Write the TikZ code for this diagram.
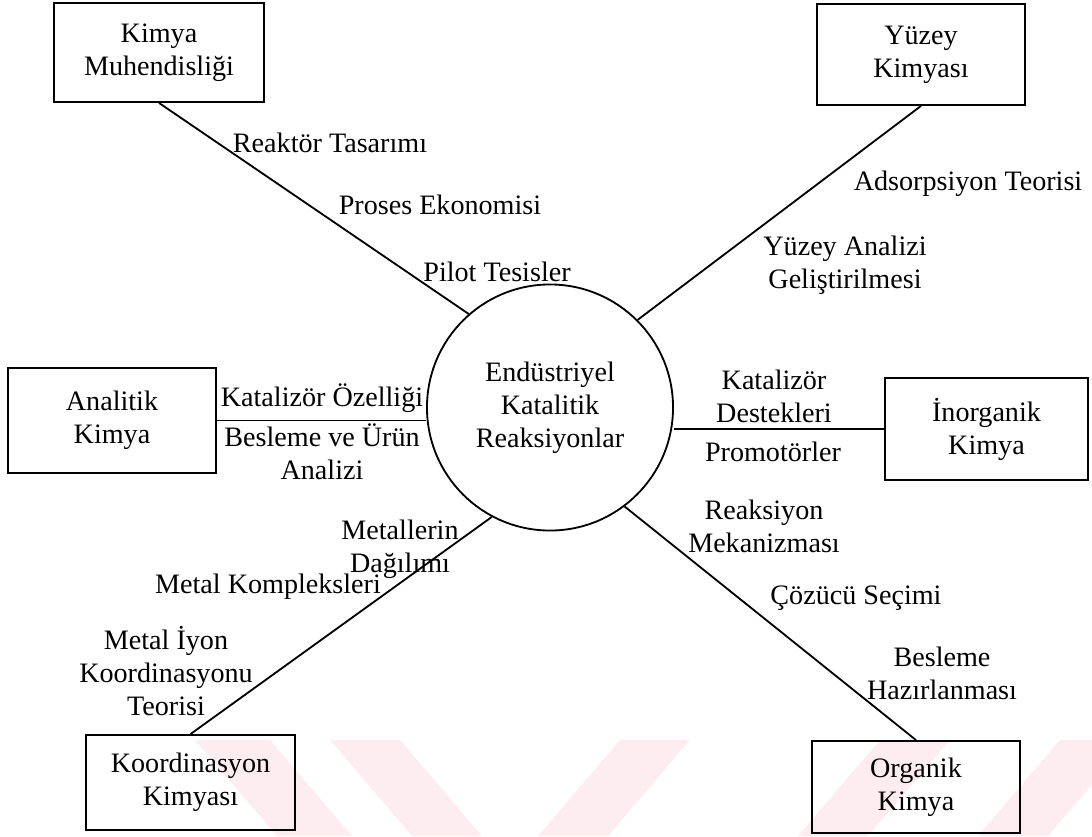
\documentclass[tikz,border=0pt]{standalone}
\usepackage{fontspec}
\setmainfont{Liberation Serif}
\usepackage{xcolor}
\usepackage{tikz}
\usetikzlibrary{positioning,calc}

\definecolor{wmpink}{RGB}{253,236,240}

\begin{document}
\begin{tikzpicture}[x=0.025cm, y=-0.025cm,
    box/.style={draw, line width=1.3pt, rectangle, align=center, inner sep=0pt},
    hub/.style={draw, line width=1.3pt, circle, align=center, inner sep=0pt, minimum size=6.15cm},
    lbl/.style={align=center, inner sep=0pt},
    every node/.style={font=\fontsize{20}{23.5}\selectfont},
    link/.style={line width=1.3pt}]
  \useasboundingbox (0,0) rectangle (1092,836);

  % watermark
  \fill[wmpink] (195,740) -- (270,740) -- (352,836) -- (277,836) -- cycle;
  \fill[wmpink] (330,740) -- (400,740) -- (482,836) -- (412,836) -- cycle;
  \fill[wmpink] (620,740) -- (690,740) -- (608,836) -- (538,836) -- cycle;
  \fill[wmpink] (880,740) -- (950,740) -- (868,836) -- (798,836) -- cycle;
  \fill[wmpink] (1060,740) -- (1130,740) -- (1048,836) -- (978,836) -- cycle;

  % hub and boxes
  \node[hub] (hub) at (550,407.5) {Endüstriyel\\Katalitik\\Reaksiyonlar};

  \node[box, minimum width=5.25cm, minimum height=2.475cm] (kim) at (159,52.5) {Kimya\\Muhendisliği};
  \node[box, minimum width=5.2cm, minimum height=2.525cm] (yuz) at (921,54.5) {Yüzey\\Kimyası};
  \node[box, minimum width=5.2cm, minimum height=2.625cm] (ana) at (112,420.5) {Analitik\\Kimya};
  \node[box, minimum width=5.075cm, minimum height=2.55cm] (ino) at (986.5,429) {İnorganik\\Kimya};
  \node[box, minimum width=5.225cm, minimum height=2.375cm] (koo) at (190.5,782.5) {Koordinasyon\\Kimyası};
  \node[box, minimum width=5.2cm, minimum height=2.3cm] (org) at (916,787) {Organik\\Kimya};

  % connectors
  \draw[link] (kim.south) -- (hub.131);
  \draw[link] (yuz.south) -- (hub.45);
  \draw[link] (ana.east) -- (ana.east -| hub.west);
  \draw[link] (ino.west) -- (ino.west -| hub.east);
  \draw[link] (koo.north) -- (hub.242);
  \draw[link] (org.north) -- (hub.307);

  % labels
  \node[lbl] (reaktor) at (330,143) {Reaktör Tasarımı};
  \node[lbl] (proses) at (440,205) {Proses Ekonomisi};
  \node[lbl] (pilot) at (497,272) {Pilot Tesisler};

  \node[lbl] (adsorp) at (968,184) {Adsorpsiyon Teorisi};
  \node[lbl] (yanaliz) at (845,265) {Yüzey Analizi\\Geliştirilmesi};

  \node[lbl] (ozellik) at (322,398) {Katalizör Özelliği};
  \node[lbl] (urun) at (322,452) {Besleme ve Ürün\\Analizi};

  \node[lbl] (destek) at (774,396) {Katalizör\\Destekleri};
  \node[lbl] (promot) at (773,452) {Promotörler};

  \node[lbl] (dagilim) at (400,549) {Metallerin\\Dağılımı};
  \node[lbl] (komplex) at (268,587) {Metal Kompleksleri};
  \node[lbl] (iyon) at (166,671) {Metal İyon\\Koordinasyonu\\Teorisi};

  \node[lbl] (mekan) at (764,526) {Reaksiyon\\Mekanizması};
  \node[lbl] (cozucu) at (856,598) {Çözücü Seçimi};
  \node[lbl] (hazir) at (942,673) {Besleme\\Hazırlanması};
\end{tikzpicture}
\end{document}
